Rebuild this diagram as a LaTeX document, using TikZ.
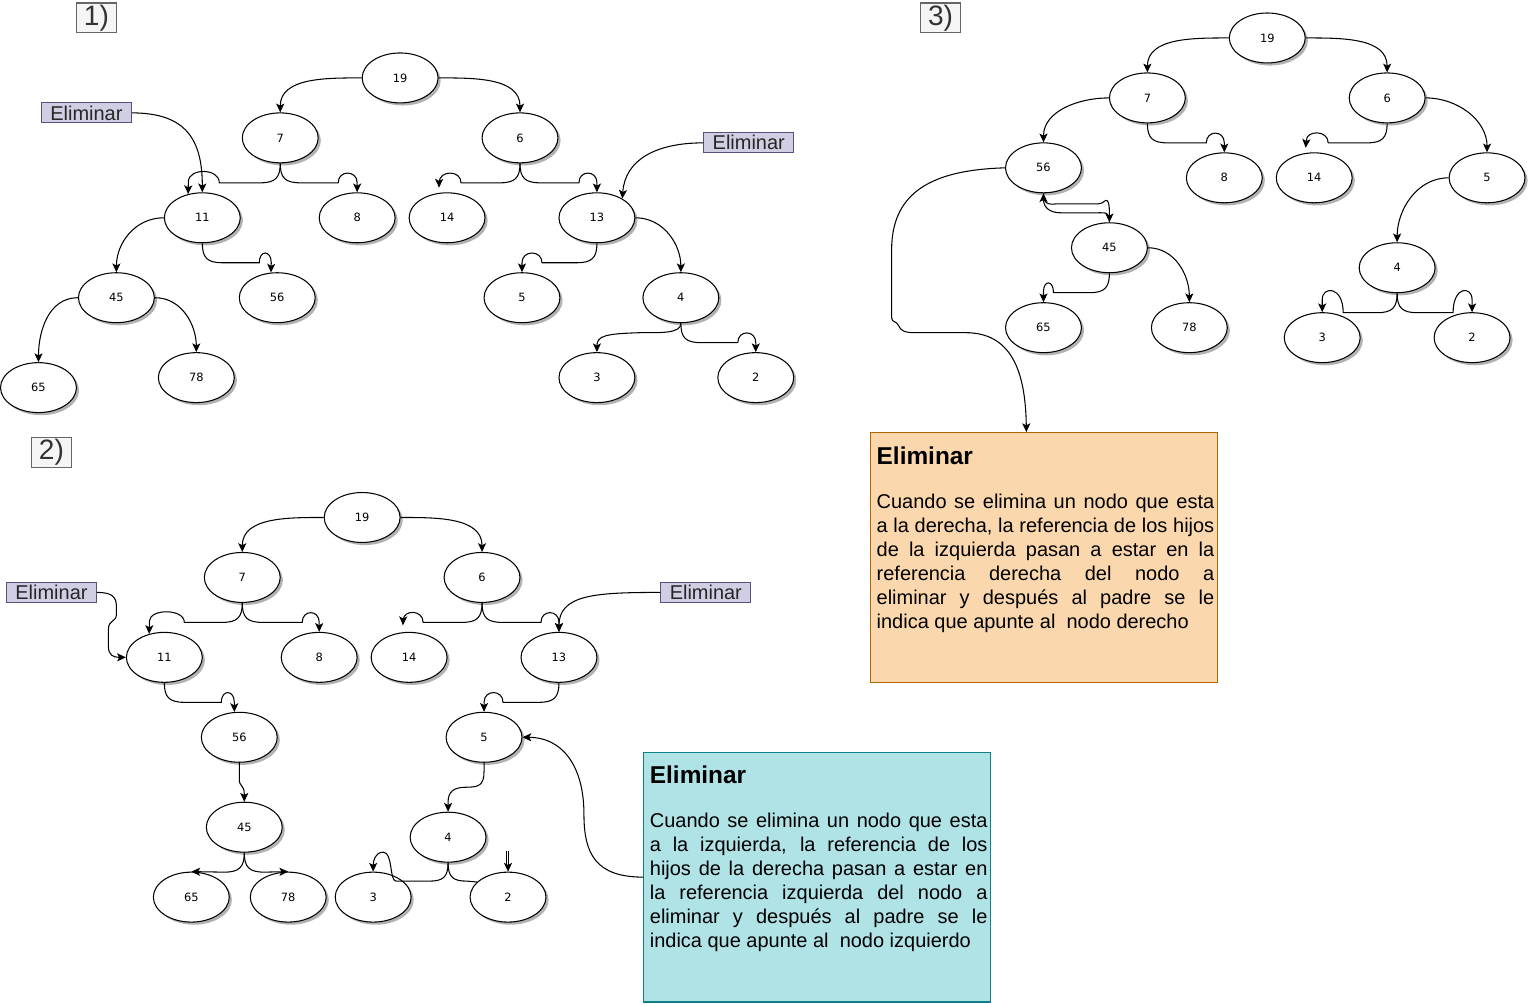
\documentclass[tikz,border=0pt]{standalone}
\usepackage{fontspec}
\setmainfont{Liberation Sans}
\newfontfamily\numfont{DejaVu Sans}
\usepackage{xcolor}
\usetikzlibrary{shapes,calc,positioning,arrows.meta,shadows}

\definecolor{elimfill}{HTML}{D0CEE2}
\definecolor{elimline}{HTML}{56517E}
\definecolor{leftfill}{HTML}{B0E3E6}
\definecolor{leftline}{HTML}{0E8088}
\definecolor{rightfill}{HTML}{FAD7AC}
\definecolor{rightline}{HTML}{B46504}
\definecolor{tagfill}{HTML}{F5F5F5}
\definecolor{tagline}{HTML}{666666}
\definecolor{tagtext}{HTML}{333333}

\begin{document}
\begin{tikzpicture}[x=0.02cm,y=-0.02cm,line width=0.6pt]
  \tikzset{ nd/.style={ellipse,draw,fill=white,minimum width=1.52cm,minimum height=1cm,inner sep=0pt,
      font=\numfont\fontsize{6.5}{8}\selectfont,
      drop shadow={shadow xshift=1.5pt,shadow yshift=-1.5pt,fill=black,opacity=0.3}},
    lbl/.style={draw=elimline,fill=elimfill,text=black!85,minimum width=1.8cm,minimum height=0.4cm,
      inner sep=0pt,font=\fontsize{11.38}{12}\selectfont},
    tag/.style={draw=tagline,fill=tagfill,text=tagtext,minimum width=0.8cm,minimum height=0.6cm,
      inner sep=0pt,font=\fontsize{16}{16}\selectfont},
    note/.style={minimum width=6.94cm,minimum height=5cm,inner sep=0pt},
    notetext/.style={text width=6.76cm,align=justify,inner sep=0pt,anchor=north west},
    arr/.style={-{Stealth[length=5pt,width=4.6pt,inset=1.2pt]}},
  }
  \fill[white] (0,0) rectangle (1528,1004);

  % ---------- 1) ----------
  \node[tag] (p1) at (95,18) {1)};
  \node[nd] (a19) at (399,78) {19};
  \node[nd] (a7) at (279,138) {7};
  \node[nd] (a6) at (519,138) {6};
  \node[nd] (a11) at (201,218) {11};
  \node[nd] (a8) at (356,218) {8};
  \node[nd] (a14) at (446,218) {14};
  \node[nd] (a13) at (596,218) {13};
  \node[nd] (a45) at (115,298) {45};
  \node[nd] (a56) at (276,298) {56};
  \node[nd] (a5) at (521,298) {5};
  \node[nd] (a4) at (680,298) {4};
  \node[nd] (a65) at (37,388) {65};
  \node[nd] (a78) at (195,378) {78};
  \node[nd] (a3) at (596,378) {3};
  \node[nd] (a2) at (755,378) {2};
  \node[lbl] (del1) at (85,113) {Eliminar};
  \node[lbl] (del2) at (748,143) {Eliminar};

  % the links of the first tree
  \draw[arr] (a19.west) .. controls +(-35,0) and +(0,-35) .. (a7.north);
  \draw[arr] (a19.east) .. controls +(35,0) and +(0,-35) .. (a6.north);
  \draw[arr] (a7.south) .. controls (279,178) and (274,183) .. (259,183) -- (218,183)
    .. controls (218,168) and (187,168) .. (187,182) -- (a11.121);
  \draw[arr] (a7.south) .. controls (279,178) and (284,183) .. (299,183) -- (337,183)
    .. controls (337,170) and (356,170) .. (356,183) -- (a8.north);
  \draw[arr,shorten >=3pt] (a6.south) .. controls (519,178) and (514,183) .. (499,183) -- (460,183)
    .. controls (460,170) and (438,170) .. (438,183) -- (a14.108);
  \draw[arr] (a6.south) .. controls (519,178) and (524,183) .. (539,183) -- (578,183)
    .. controls (578,170) and (596,170) .. (596,183) -- (a13.north);
  \draw[arr] (del1.east) .. controls (185,113) and (201,140) .. (a11.north);
  \draw[arr] (del2.west) .. controls (655,143) and (624,160) .. (a13.37);
  \draw[arr] (a13.south) .. controls (596,258) and (591,263) .. (576,263) -- (541,263)
    .. controls (541,250) and (521,250) .. (521,263) -- (a5.north);
  \draw[arr] (a13.east) .. controls +(28,0) and +(0,-28) .. (a4.north);
  \draw[arr] (a11.west) .. controls +(-29,0) and +(0,-29) .. (a45.north);
  \draw[arr] (a11.south) .. controls (201,258) and (206,263) .. (221,263) -- (258,263)
    .. controls (258,250) and (270,250) .. (270,263) -- (a56.104);
  \draw[arr] (a45.west) .. controls +(-30,0) and +(0,-30) .. (a65.north);
  \draw[arr] (a45.east) .. controls +(27,0) and +(0,-27) .. (a78.north);
  \draw[arr] (a4.south) .. controls (680,334) and (660,333) .. (640,333)
    .. controls (605,334) and (596,336) .. (a3.north);
  \draw[arr] (a4.south) .. controls (680,338) and (685,343) .. (700,343) -- (737,343)
    .. controls (737,330) and (755,330) .. (755,343) -- (a2.north);

  % ---------- 2) ----------
  \node[tag] (p2) at (50,453) {2)};
  \node[nd] (b19) at (361,518) {19};
  \node[nd] (b7) at (241,578) {7};
  \node[nd] (b6) at (481,578) {6};
  \node[nd] (b11) at (163,658) {11};
  \node[nd] (b8) at (318,658) {8};
  \node[nd] (b14) at (408,658) {14};
  \node[nd] (b13) at (558,658) {13};
  \node[nd] (b56) at (238,738) {56};
  \node[nd] (b5) at (483,738) {5};
  \node[nd] (b45) at (243,828) {45};
  \node[nd] (b4) at (447,838) {4};
  \node[nd] (b65) at (190,898) {65};
  \node[nd] (b78) at (287,898) {78};
  \node[nd] (b3) at (372,898) {3};
  \node[nd] (b2) at (507,898) {2};
  \node[lbl] (del3) at (50,593) {Eliminar};
  \node[lbl] (del4) at (705,593) {Eliminar};
  \coordinate (b2in) at (507,852);

  \node[note,draw=leftline,fill=leftfill] (lbox) at (816.5,878) {};
  \node[notetext] (ltxt) at ($(lbox.north west)+(6,14)$) {%
    {\fontsize{13.9}{16}\selectfont\bfseries Eliminar\par}\vspace{0.4cm}%
    {\fontsize{11.38}{13.66}\selectfont Cuando se elimina un nodo que esta\linebreak
    a la izquierda, la referencia de los\linebreak
    hijos de la derecha pasan a estar en\linebreak
    la referencia izquierda del nodo a\linebreak
    eliminar y después al padre se le\linebreak
    indica que apunte al\ \ nodo izquierdo\par}};

  % the links of the second tree
  \draw[arr] (b19.west) .. controls +(-35,0) and +(0,-35) .. (b7.north);
  \draw[arr] (b19.east) .. controls +(35,0) and +(0,-35) .. (b6.north);
  \draw[arr] (b7.south) .. controls (241,618) and (236,623) .. (221,623) -- (183,623)
    .. controls (183,609) and (148,609) .. (148,622) -- (b11.123);
  \draw[arr] (b7.south) .. controls (241,618) and (246,623) .. (261,623) -- (301,623)
    .. controls (301,610) and (318,610) .. (318,623) -- (b8.north);
  \draw[arr,shorten >=4pt] (b6.south) .. controls (481,618) and (476,623) .. (461,623) -- (422,623)
    .. controls (422,610) and (402,610) .. (402,621) -- (b14.104);
  \draw[arr] (b6.south) .. controls (481,618) and (486,623) .. (501,623) -- (540,623)
    .. controls (540,610) and (558,610) .. (558,623) -- (b13.north);
  \draw[arr] (del4.west) .. controls (595,593) and (558,595) .. (b13.north);
  \draw[arr] (del3.east) .. controls (110,593) and (115,597) .. (115,607) -- (115,615)
    .. controls (115,623) and (107,620) .. (107,630) -- (107,647)
    .. controls (107,656) and (112,658) .. (b11.west);
  \draw[arr] (b11.south) .. controls (163,698) and (168,703) .. (183,703) -- (220,703)
    .. controls (220,690) and (233,690) .. (233,703) -- (b56.101);
  \draw[arr] (b56.south) -- (238,780) .. controls (238,788) and (243,785) .. (243,795) -- (b45.north);
  \draw[arr] (b45.south) .. controls (243,868) and (238,873) .. (223,873) -- (b65.north);
  \draw[arr] (b45.south) .. controls (243,868) and (248,873) .. (263,873) -- (b78.north);
  \draw[arr] (b13.south) .. controls (558,698) and (553,703) .. (538,703) -- (502,703)
    .. controls (502,690) and (483,690) .. (483,703) -- (b5.north);
  \draw[arr] (b5.south) -- (483,772) .. controls (483,786) and (478,788) .. (465,788)
    .. controls (452,788) and (447,793) .. (447,803) -- (b4.north);
  \draw[arr] (b4.south) .. controls (447,878) and (442,882) .. (428,882) -- (395,882)
    .. controls (388,882) and (392,853) .. (382,853) .. controls (374,853) and (372,862) .. (b3.north);
  \draw (b4.south) .. controls (447,878) and (452,882) .. (466,882) -- (b2.154);
  \draw[line width=0.4pt] ([xshift=-0.9pt]b2in) -- ++(0,15);
  \draw[arr,line width=0.4pt] (b2in) -- (b2.north);
  \draw[arr] (lbox.west) .. controls (595,878) and (583,855) .. (583,815)
    .. controls (583,765) and (560,738) .. (b5.east);

  % ---------- 3) ----------
  \node[tag] (p3) at (940,18) {3)};
  \node[nd] (c19) at (1267,38) {19};
  \node[nd] (c7) at (1147,98) {7};
  \node[nd] (c6) at (1387,98) {6};
  \node[nd] (c56) at (1043,168) {56};
  \node[nd] (c8) at (1224,178) {8};
  \node[nd] (c14) at (1314,178) {14};
  \node[nd] (c5) at (1487,178) {5};
  \node[nd] (c45) at (1109,248) {45};
  \node[nd] (c4) at (1397,268) {4};
  \node[nd] (c65) at (1043,328) {65};
  \node[nd] (c78) at (1189,328) {78};
  \node[nd] (c3) at (1322,338) {3};
  \node[nd] (c2) at (1472,338) {2};

  \node[note,draw=rightline,fill=rightfill] (rbox) at (1043.5,558) {};
  \node[notetext] (rtxt) at ($(rbox.north west)+(6,14)$) {%
    {\fontsize{13.9}{16}\selectfont\bfseries Eliminar\par}\vspace{0.4cm}%
    {\fontsize{11.38}{13.66}\selectfont Cuando se elimina un nodo que esta\linebreak
    a la derecha, la referencia de los hijos\linebreak
    de la izquierda pasan a estar en la\linebreak
    referencia derecha del nodo a\linebreak
    eliminar y después al padre se le\linebreak
    indica que apunte al\ \ nodo derecho\par}};

  % the links of the third tree
  \draw[arr] (c19.west) .. controls +(-35,0) and +(0,-35) .. (c7.north);
  \draw[arr] (c19.east) .. controls +(35,0) and +(0,-35) .. (c6.north);
  \draw[arr] (c7.west) .. controls +(-31,0) and +(0,-31) .. (c56.north);
  \draw[arr] (c7.south) .. controls (1147,138) and (1152,143) .. (1167,143) -- (1206,143)
    .. controls (1206,130) and (1224,130) .. (1224,143) -- (c8.north);
  \draw[arr,shorten >=3pt] (c6.south) .. controls (1387,138) and (1382,143) .. (1367,143) -- (1328,143)
    .. controls (1328,130) and (1306,130) .. (1306,141) -- (c14.110);
  \draw[arr] (c6.east) .. controls +(32,0) and +(0,-32) .. (c5.north);
  \draw[arr] (c5.west) .. controls +(-32,0) and +(0,-32) .. (c4.north);
  \draw[arr] (c4.south) .. controls (1397,308) and (1392,313) .. (1377,313) -- (1343,313)
    .. controls (1343,286) and (1322,286) .. (1322,300) -- (c3.north);
  \draw[arr] (c4.south) .. controls (1397,308) and (1402,313) .. (1417,313) -- (1453,313)
    .. controls (1453,286) and (1472,286) .. (1472,300) -- (c2.north);
  \draw[arr] (c45.south) .. controls (1109,288) and (1104,293) .. (1089,293) -- (1053,293)
    .. controls (1053,280) and (1043,280) .. (1043,292) -- (c65.north);
  \draw[arr] (c45.east) .. controls +(27,0) and +(0,-27) .. (c78.north);
  \draw[arr] (c45.north) .. controls (1109,212) and (1106,213) .. (1096,213) -- (1060,213)
    .. controls (1050,213) and (1043,208) .. (c56.south);
  \draw[arr] (c56.south) .. controls (1043,207) and (1050,204) .. (1060,204) -- (1098,204)
    .. controls (1104,204) and (1104,199) .. (1107,201) .. controls (1109,203) and (1109,210) .. (c45.north);
  \draw[arr] (c56.west) .. controls (935,170) and (891,190) .. (891,250) -- (891,318)
    .. controls (891,323) and (896,321) .. (898,326) .. controls (900,331) and (904,333) .. (914,333)
    -- (965,333) .. controls (1010,333) and (1025,370) .. (rbox.98);
\end{tikzpicture}
\end{document}
